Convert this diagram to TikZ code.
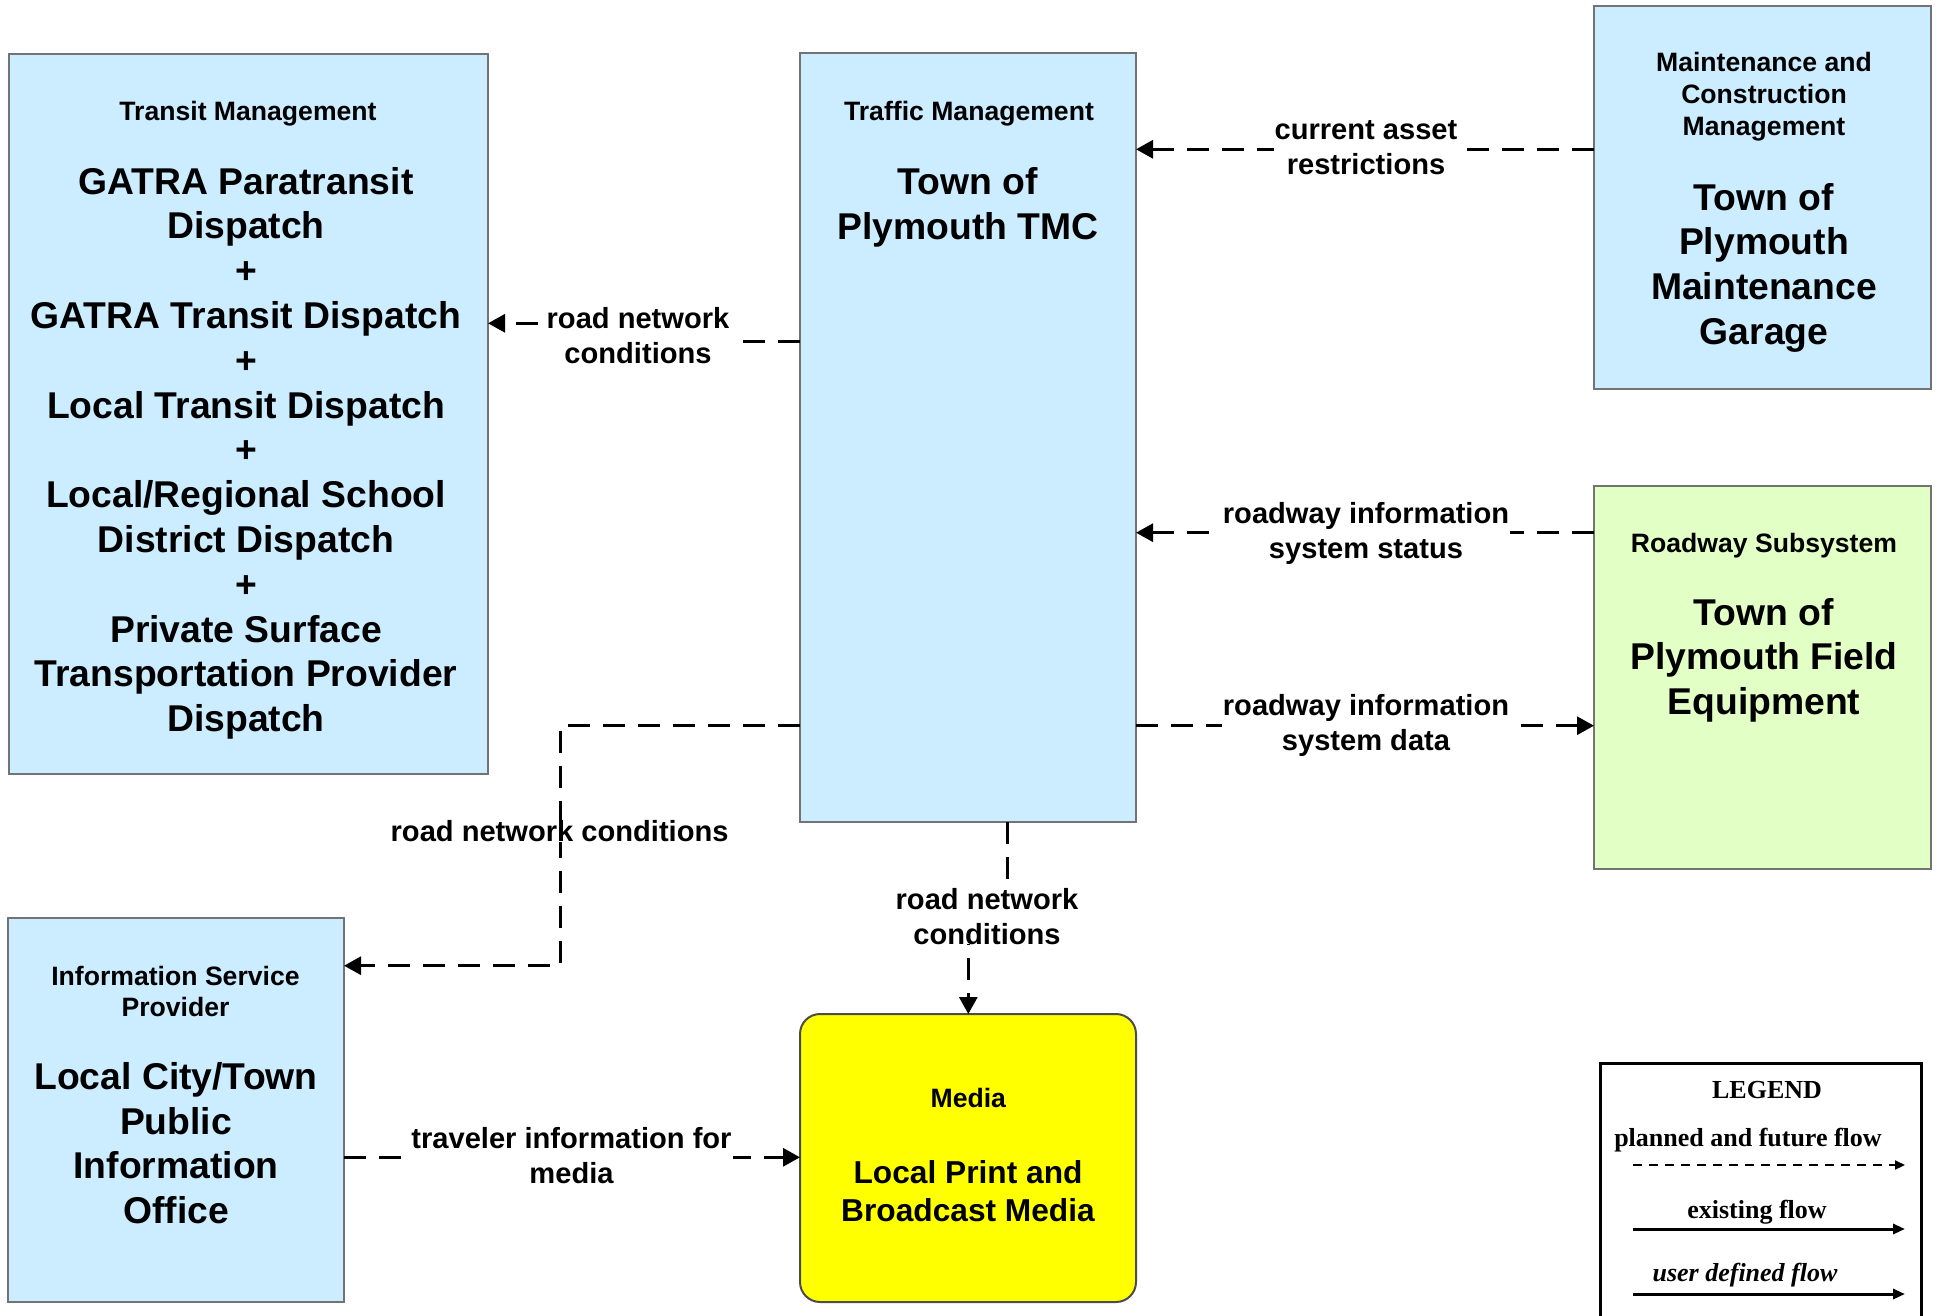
\documentclass[tikz,border=0pt]{standalone}
\usepackage{fontspec}
\setmainfont{Liberation Sans}
\newfontfamily\legendfont{Liberation Serif}
\usetikzlibrary{arrows.meta,calc}
\definecolor{boxblue}{HTML}{CCECFF}
\definecolor{boxgreen}{HTML}{E2FFC6}
\definecolor{boxyellow}{HTML}{FFFF00}
\definecolor{boxedge}{HTML}{737373}
\begin{document}
\begin{tikzpicture}[x=1pt,y=-1pt,
  box/.style={draw=boxedge, line width=2pt, fill=boxblue, inner sep=0pt, outer sep=0pt},
  ttl/.style={anchor=base, align=center, inner sep=0pt, font=\fontsize{26.6}{31.7}\selectfont\bfseries},
  body/.style={anchor=base, align=center, inner sep=0pt, font=\fontsize{37.3}{44.8}\selectfont\bfseries},
  mbody/.style={anchor=base, align=center, inner sep=0pt, font=\fontsize{31.7}{38.3}\selectfont\bfseries},
  lbl/.style={anchor=base, align=center, fill=white, inner xsep=1pt, inner ysep=0pt, font=\fontsize{29.1}{35}\selectfont\bfseries},
  flow/.style={line width=3pt, dash pattern=on 22pt off 13pt, -{Triangle[length=17pt,width=18pt]}},
  legtxt/.style={anchor=base, inner sep=0pt, font=\legendfont\fontsize{26}{30}\selectfont\bfseries},
  legdash/.style={line width=2pt, dash pattern=on 9pt off 7pt, -{Triangle[length=10pt,width=9pt]}},
  legsolid/.style={line width=3pt, -{Triangle[length=12pt,width=10pt]}}
]
\fill[white] (0,0) rectangle (1937,1316);
\useasboundingbox (0,0) rectangle (1937,1316);

% boxes
\node[box, minimum width=479.3pt, minimum height=719.5pt] (tm) at (248.35,413.75) {};
\node[box, minimum width=336pt, minimum height=768.5pt] (tmc) at (968,437.75) {};
\node[box, minimum width=337pt, minimum height=383pt] (mcm) at (1762.5,197.5) {};
\node[box, fill=boxgreen, minimum width=337pt, minimum height=383pt] (rs) at (1762.5,677.5) {};
\node[box, minimum width=336pt, minimum height=384pt] (isp) at (176,1110) {};
\node[box, fill=boxyellow, draw=black!70, rounded corners=20pt, minimum width=336pt, minimum height=288pt] (media) at (968,1158) {};

% box texts (anchor=base is the baseline of the last line)
\node[ttl] (tmT) at (248,121) {Transit Management};
\node[body] (tmB) at (246,731.6) {GATRA Paratransit\\Dispatch\\+\\GATRA Transit Dispatch\\+\\Local Transit Dispatch\\+\\Local/Regional School\\District Dispatch\\+\\Private Surface\\Transportation Provider\\Dispatch};
\node[ttl] (tmcT) at (969,121) {Traffic Management};
\node[body] (tmcB) at (968,239.1) {Town of\\Plymouth TMC};
\node[ttl] (mcmT) at (1764,135.1) {Maintenance and\\Construction\\Management};
\node[body] (mcmB) at (1764,344.4) {Town of\\Plymouth\\Maintenance\\Garage};
\node[ttl] (rsT) at (1764,552.7) {Roadway Subsystem};
\node[body] (rsB) at (1764,714.6) {Town of\\Plymouth Field\\Equipment};
\node[ttl] (ispT) at (175.5,1016.7) {Information Service\\Provider};
\node[body] (ispB) at (176,1223.7) {Local City/Town\\Public\\Information\\Office};
\node[ttl] (mediaT) at (968.3,1107.3) {Media};
\node[mbody] (mediaB) at (968,1221.6) {Local Print and\\Broadcast Media};

% jog coordinates
\coordinate (j1) at (638,341.7);
\coordinate (j1e) at (0,323.3);
\coordinate (y2) at (0,149.3);
\coordinate (y3) at (0,532.7);
\coordinate (y4) at (0,725.7);
\coordinate (j5) at (560,725.7);
\coordinate (y5e) at (0,965.7);
\coordinate (j6s) at (1007.3,0);
\coordinate (j6) at (1007.3,913);
\coordinate (j6e) at (968.3,913);
\coordinate (y7) at (0,1157.3);

% flows
\draw[flow] (tmc.west |- j1) -- (j1) |- (tm.east |- j1e);
\draw[flow] (mcm.west |- y2) -- (tmc.east |- y2);
\draw[flow] (rs.west |- y3) -- (tmc.east |- y3);
\draw[flow] (tmc.east |- y4) -- (rs.west |- y4);
\draw[flow] (tmc.west |- y4) -- (j5) |- (isp.east |- y5e);
\draw[flow] (tmc.south -| j6s) -- (j6) -- (j6e) -- (media.north -| j6e);
\draw[flow] (isp.east |- y7) -- (media.west |- y7);

% flow labels (baseline of last line)
\node[lbl] (l1) at (638,363.3) {road network\\conditions};
\node[lbl] (l2) at (1366,175) {current asset\\restrictions};
\node[lbl] (l3) at (1366,558.3) {roadway information\\system status};
\node[lbl] (l4) at (1366,750) {roadway information\\system data};
\node[lbl] (l5) at (559.6,841.7) {road network conditions};
\node[lbl] (l6) at (987,944) {road network\\conditions};
\node[lbl] (l7) at (571.5,1183.3) {traveler information for\\media};

% legend
\node[draw=black, line width=3pt, fill=white, inner sep=0pt, minimum width=321pt, minimum height=277pt] (legend) at (1760.5,1201.5) {};
\node[legtxt] (legT) at (1767,1098) {LEGEND};
\node[legtxt] (leg1) at (1748,1146.7) {planned and future flow};
\node[legtxt] (leg2) at (1757,1218) {existing flow};
\node[legtxt, font=\legendfont\fontsize{26}{30}\selectfont\bfseries\itshape] (leg3) at (1745,1281.7) {user defined flow};
\coordinate (la1) at (1633,1165);
\coordinate (lb1) at (1905,1165);
\coordinate (la2) at (1633,1229);
\coordinate (lb2) at (1905,1229);
\coordinate (la3) at (1633,1294);
\coordinate (lb3) at (1905,1294);
\draw[legdash] (la1) -- (lb1);
\draw[legsolid] (la2) -- (lb2);
\draw[legsolid] (la3) -- (lb3);
\end{tikzpicture}
\end{document}
